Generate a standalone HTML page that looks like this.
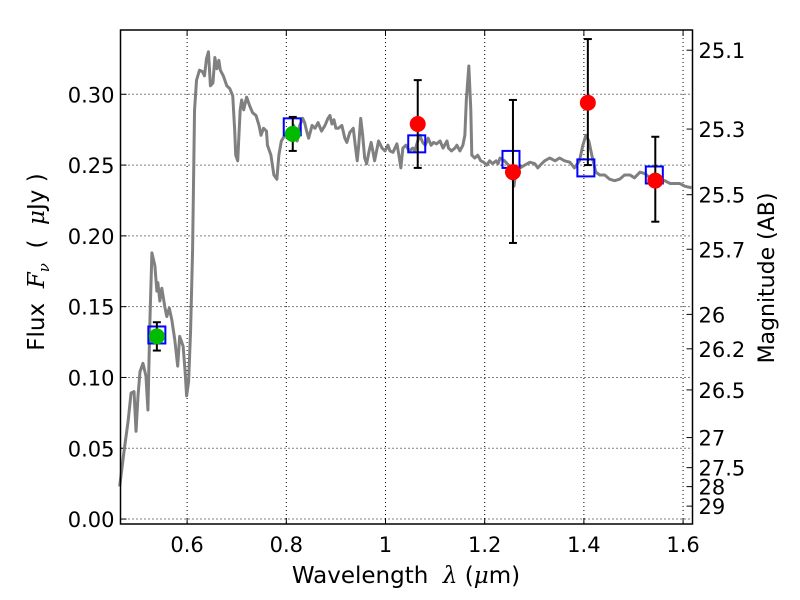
<!DOCTYPE html>
<html><head><meta charset="utf-8"><style>
html,body{margin:0;padding:0;background:#fff;}
svg{display:block;font-family:"DejaVu Sans","Liberation Sans",sans-serif;}
</style></head><body>
<svg id="chart" width="800" height="600" viewBox="0 0 800 600" xmlns="http://www.w3.org/2000/svg"></svg>
<script>
const specWl=[.464,.474,.481,.487,.493,.497,.501,.505,.511,.517,.521,.525,.529,.535,.539,.541,.545,.549,.555,.559,.564,.569,.575,.581,.585,.592,.596,.599,.603,.607,.611,.615,.619,.625,.631,.635,.639,.643,.647,.652,.656,.660,.664,.667,.673,.680,.686,.692,.696,.698,.702,.707,.710,.714,.720,.726,.732,.739,.745,.749,.754,.760,.762,.769,.775,.781,.785,.790,.797,.807,.815,.822,.827,.833,.837,.841,.845,.852,.858,.864,.871,.878,.884,.888,.892,.896,.900,.905,.912,.918,.922,.928,.935,.939,.943,.946,.950,.954,.958,.962,.967,.971,.975,.978,.982,.986,.993,.999,1.005,1.009,1.015,1.023,1.027,1.031,1.035,1.041,1.048,1.055,1.059,1.065,1.069,1.075,1.080,1.086,1.092,1.097,1.103,1.110,1.116,1.124,1.127,1.133,1.140,1.144,1.150,1.156,1.160,1.163,1.168,1.172,1.174,1.180,1.186,1.192,1.198,1.204,1.210,1.216,1.223,1.227,1.231,1.240,1.248,1.255,1.259,1.263,1.271,1.281,1.291,1.301,1.307,1.315,1.321,1.331,1.342,1.351,1.361,1.372,1.381,1.391,1.398,1.404,1.410,1.416,1.424,1.432,1.442,1.452,1.462,1.472,1.482,1.493,1.502,1.513,1.523,1.533,1.544,1.554,1.563,1.574,1.584,1.593,1.604,1.617];
const specFlux=[.023,.051,.069,.089,.090,.062,.087,.104,.110,.101,.077,.140,.188,.179,.161,.167,.154,.163,.150,.143,.149,.141,.127,.108,.129,.122,.104,.087,.097,.133,.189,.289,.310,.317,.316,.313,.325,.330,.306,.308,.326,.318,.324,.317,.313,.306,.304,.299,.274,.257,.253,.289,.296,.289,.298,.292,.287,.285,.278,.271,.276,.274,.264,.257,.243,.240,.257,.267,.271,.274,.278,.267,.278,.283,.280,.274,.269,.278,.276,.280,.274,.278,.283,.285,.279,.282,.276,.276,.278,.269,.266,.273,.276,.264,.253,.264,.283,.271,.255,.251,.260,.266,.259,.253,.260,.267,.262,.260,.264,.260,.259,.265,.257,.248,.262,.264,.260,.262,.260,.267,.271,.266,.264,.269,.264,.266,.265,.267,.262,.267,.262,.260,.262,.264,.260,.264,.271,.296,.320,.289,.257,.255,.257,.253,.252,.250,.253,.251,.253,.251,.255,.253,.250,.247,.235,.246,.248,.250,.252,.251,.248,.251,.253,.255,.253,.255,.253,.252,.248,.253,.264,.271,.267,.257,.245,.243,.243,.240,.239,.240,.243,.243,.241,.245,.244,.241,.243,.239,.239,.237,.237,.237,.235,.234];
const modelWl=[.539,.812,1.063,1.253,1.404,1.542];
const modelFlux=[.130,.277,.265,.254,.248,.243];
const greenWl=[.539,.813];
const greenFlux=[.129,.272];
const greenErr=[.010,.012];
const redWl=[1.065,1.257,1.408,1.544];
const redFlux=[.279,.245,.294,.239];
const redErrLo=[.031,.050,.044,.029];
const redErrHi=[.031,.051,.045,.031];
const xTicks=[0.6,0.8,1.0,1.2,1.4,1.6];
const xTickLabels=["0.6","0.8","1","1.2","1.4","1.6"];
const yTicks=[0,0.05,0.10,0.15,0.20,0.25,0.30];
const yTickLabels=["0.00","0.05","0.10","0.15","0.20","0.25","0.30"];
const magTicks=[25.1,25.3,25.5,25.7,26,26.2,26.5,27,27.5,28,29];
const magLabels=["25.1","25.3","25.5","25.7","26","26.2","26.5","27","27.5","28","29"];

const L=120.5,R=692.5,T=30,B=524;
const X0=0.4657,X1=1.6190,Y0=-0.0035,Y1=0.3454;
const sx=v=>L+(v-X0)/(X1-X0)*(R-L);
const sy=v=>B-(v-Y0)/(Y1-Y0)*(B-T);
const svg=document.getElementById('chart');
const NS='http://www.w3.org/2000/svg';
function mk(tag,attrs,parent){const e=document.createElementNS(NS,tag);for(const k in attrs)e.setAttribute(k,attrs[k]);(parent||svg).appendChild(e);return e;}

xTicks.forEach((t,i)=>{
  const g=mk('line',{x1:sx(t),x2:sx(t),y1:T,y2:B,stroke:'#000','stroke-width':1,'stroke-dasharray':'1,3'});
  
  
  mk('line',{x1:sx(t),x2:sx(t),y1:B,y2:B-6,stroke:'#000'});
  mk('line',{x1:sx(t),x2:sx(t),y1:T,y2:T+6,stroke:'#000'});
  const tx=mk('text',{x:sx(t),y:B+28,'font-size':21,'text-anchor':'middle',fill:'#000'});
  tx.textContent=xTickLabels[i];
  
  
});
yTicks.forEach((t,i)=>{
  const g=mk('line',{x1:L,x2:R,y1:sy(t),y2:sy(t),stroke:'#000','stroke-width':1,'stroke-dasharray':'1,3'});
  
  
  mk('line',{x1:L,x2:L+6,y1:sy(t),y2:sy(t),stroke:'#000'});
  const tx=mk('text',{x:L-6,y:sy(t)+8,'font-size':21,'text-anchor':'end',fill:'#000'});
  tx.textContent=yTickLabels[i];
  
  
});
magTicks.forEach((m,i)=>{
  const f=Math.pow(10,(23.9-m)/2.5);
  mk('line',{x1:R,x2:R-6,y1:sy(f),y2:sy(f),stroke:'#000'});
  const tx=mk('text',{x:R+6,y:sy(f)+8,'font-size':21,fill:'#000'});
  tx.textContent=magLabels[i];
  
  
});

const sp=mk('polyline',{points:specWl.map((w,i)=>sx(w)+','+sy(specFlux[i])).join(' '),fill:'none',stroke:'#808080','stroke-width':3,'stroke-linejoin':'round'});



modelWl.forEach((w,i)=>{
  const r=mk('rect',{x:sx(w)-8.5,y:sy(modelFlux[i])-8.5,width:17,height:17,fill:'none',stroke:'#0000ff','stroke-width':2});
  
  
});
function errbar(x,lo,hi){
  mk('line',{x1:x,x2:x,y1:sy(lo),y2:sy(hi),stroke:'#000','stroke-width':2});
  mk('line',{x1:x-4,x2:x+4,y1:sy(lo),y2:sy(lo),stroke:'#000','stroke-width':2});
  mk('line',{x1:x-4,x2:x+4,y1:sy(hi),y2:sy(hi),stroke:'#000','stroke-width':2});
}
greenWl.forEach((w,i)=>{
  errbar(sx(w),greenFlux[i]-greenErr[i],greenFlux[i]+greenErr[i]);
  const c=mk('circle',{cx:sx(w),cy:sy(greenFlux[i]),r:8,fill:'#00bb00'});
  
  
});
redWl.forEach((w,i)=>{
  errbar(sx(w),redFlux[i]-redErrLo[i],redFlux[i]+redErrHi[i]);
  const c=mk('circle',{cx:sx(w),cy:sy(redFlux[i]),r:8,fill:'#ff0000'});
  
  
});

const fr=mk('rect',{x:L,y:T,width:R-L,height:B-T,fill:'none',stroke:'#000','stroke-width':1.5});



const xt=mk('text',{x:406,y:583,'font-size':23,'text-anchor':'middle',fill:'#000'});
xt.innerHTML='Wavelength\u00a0\u00a0<tspan font-family="DejaVu Serif,serif" font-style="italic">λ</tspan> (<tspan font-family="DejaVu Serif,serif" font-style="italic">μ</tspan>m)';


const yt=mk('text',{x:0,y:0,'font-size':23,'text-anchor':'middle',fill:'#000',transform:'translate(44,262) rotate(-90)'});
yt.innerHTML='Flux\u00a0\u00a0<tspan font-family="DejaVu Serif,serif" font-style="italic">F<tspan font-size="15" dy="5">ν</tspan></tspan><tspan dy="-5">\u00a0\u00a0(\u00a0\u00a0</tspan><tspan font-family="DejaVu Serif,serif" font-style="italic">μ</tspan>Jy )';


const rt=mk('text',{x:0,y:0,'font-size':22,'text-anchor':'middle',fill:'#000',transform:'translate(774,278) rotate(-90)'});
rt.textContent='Magnitude (AB)';


</script>
</body></html>
